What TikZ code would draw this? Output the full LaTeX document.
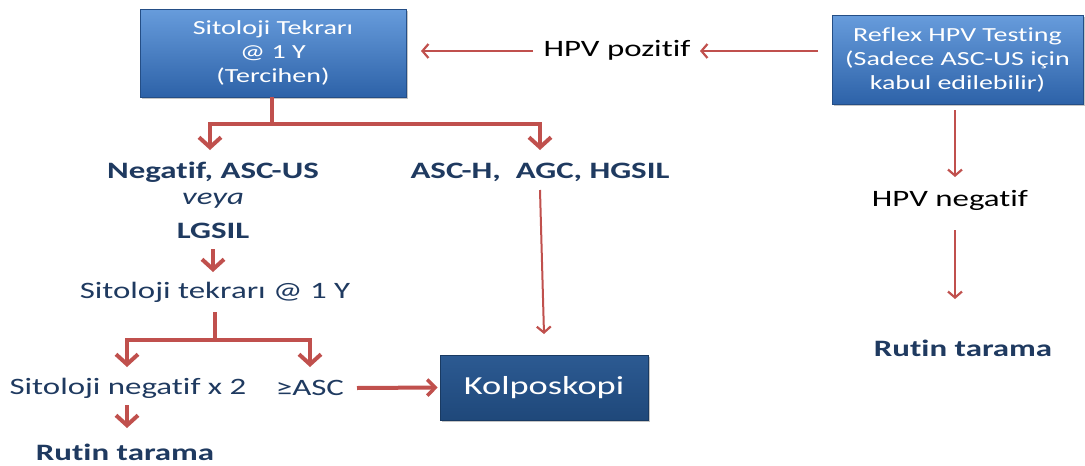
\documentclass[tikz,border=0pt]{standalone}
\usepackage{fontspec}
\setmainfont{Carlito}[FakeStretch=1.4, Ligatures=NoCommon]
\usetikzlibrary{arrows.meta,shadows}
\definecolor{navy}{HTML}{1F3A60}
\definecolor{flowred}{HTML}{C0504D}
\definecolor{boxtop}{HTML}{679CDC}
\definecolor{boxbot}{HTML}{2D62A8}
\definecolor{darktop}{HTML}{2C5A92}
\definecolor{darkbot}{HTML}{1F487A}
\tikzset{
  bluebox/.style={draw=boxbot!80!black, line width=0.6pt, top color=boxtop, bottom color=boxbot,
    text=white, align=center, inner sep=0pt,
    drop shadow={shadow xshift=2pt, shadow yshift=-2pt, fill=black!45, opacity=0.5}},
  darkbox/.style={bluebox, top color=darktop, bottom color=darkbot, draw=darkbot!80!black},
  lbl/.style={text=navy, font=\fontsize{23.5}{28}\selectfont, inner sep=1pt},
  blbl/.style={lbl, font=\fontsize{23.5}{28}\selectfont\bfseries},
  blk/.style={lbl, text=black},
  thick arrow/.style={draw=flowred, line width=4pt, -{Straight Barb[length=10pt,width=22pt,line width=4pt]}},
  side arrow/.style={draw=flowred, line width=4pt, -{Straight Barb[length=8pt,width=16pt,line width=3.5pt]}},
  thick line/.style={draw=flowred, line width=4pt},
  thin arrow/.style={draw=flowred, line width=2pt, -{Straight Barb[length=6pt,width=14pt,line width=2.2pt]}}
}
\begin{document}
\begin{tikzpicture}[x=1pt,y=-1pt]
\useasboundingbox (0,0) rectangle (1085,466);

% boxes
\node[bluebox, minimum width=266pt, minimum height=88pt, font=\fontsize{20}{24}\selectfont]
  (rep) at (273,53) {Sitoloji Tekrarı\\@ 1 Y\\(Tercihen)};
\node[bluebox, minimum width=251pt, minimum height=89pt, font=\fontsize{20}{24}\selectfont]
  (reflex) at (957.5,59.5) {Reflex HPV Testing\\(Sadece ASC-US için\\kabul edilebilir)};
\node[darkbox, minimum width=208pt, minimum height=65pt, font=\fontsize{26}{30}\selectfont]
  (kolpo) at (544,387.5) {Kolposkopi};

% labels
\node[blk] (hpvpos) at (617,50) {HPV pozitif};
\node[blbl] (neg) at (213,172) {Negatif, ASC-US};
\node[lbl, font=\fontsize{23.5}{28}\selectfont\itshape] (veya) at (213,201) {veya};
\node[blbl] (lgsil) at (213,231) {LGSIL};
\node[blbl] (ascH) at (540,172) {ASC-H,\ \ AGC, HGSIL};
\node[lbl] (rep2) at (215,292) {Sitoloji tekrarı @ 1 Y};
\node[lbl] (neg2) at (128,388) {Sitoloji negatif x 2};
\node[lbl] (asc) at (310,388) {≥ASC};
\node[blbl] (rutin1) at (125,452) {Rutin tarama};
\node[blk] (hpvneg) at (950,200) {HPV negatif};
\node[blbl] (rutin2) at (963,348) {Rutin tarama};

% branch points
\coordinate (j1) at (272,124);
\coordinate (j1l) at (210,124);
\coordinate (j1r) at (540,124);
\coordinate (j2) at (215,340);
\coordinate (j2l) at (127,340);
\coordinate (j2r) at (310,340);

% connectors: left tree
\draw[thick line] (rep.south -| j1) -- (j1);
\draw[thick arrow] (j1) -- (j1l) -- ++(0,26);
\draw[thick arrow] (j1) -- (j1r) -- ++(0,26);
\draw[thick arrow] (213,249) -- (213,272);
\draw[thick line] (215,312) -- (j2);
\draw[thick arrow] (j2) -- (j2l) -- ++(0,27);
\draw[thick arrow] (j2) -- (j2r) -- ++(0,27);
\draw[thick arrow] (127,405) -- (127,428);
\draw[side arrow] (357,388) -- ([xshift=-2pt]kolpo.west);

% thin connectors
\draw[thin arrow] (540,190) -- (544,334);
\draw[thin arrow] (818,51) -- (700,51);
\draw[thin arrow] (533,51) -- (421,51);
\draw[thin arrow] (955,110) -- (955,177);
\draw[thin arrow] (955,230) -- (955,299);
\end{tikzpicture}
\end{document}
